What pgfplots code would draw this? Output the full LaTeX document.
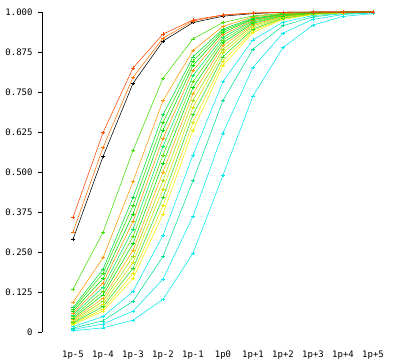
\documentclass[border=0pt]{standalone}
\usepackage{pgfplots}
\pgfplotsset{compat=1.18}
\usepackage{fontspec}
\setmonofont{DejaVu Sans Mono}
\definecolor{cR}{HTML}{FF4500}
\definecolor{cO1}{HTML}{FF7000}
\definecolor{cG1}{HTML}{40E000}
\definecolor{cO2}{HTML}{FF9900}
\definecolor{cC}{HTML}{00E8F0}
\definecolor{cT}{HTML}{00E090}
\begin{document}
\begin{tikzpicture}[x=1bp,y=1bp]
\useasboundingbox (0,0) rectangle (406,359);
\begin{axis}[
  at={(42bp,27bp)}, anchor=south west,
  scale only axis, width=361bp, height=320bp,
  xmin=-1.0333, xmax=11, ymin=0, ymax=1,
  clip=false,
  axis y line*=left, axis x line*=bottom,
  x axis line style={draw=none},
  y axis line style={black, line width=0.8pt},
  xtick={0,...,10},
  xticklabels={1p-5,1p-4,1p-3,1p-2,1p-1,1p0,1p+1,1p+2,1p+3,1p+4,1p+5},
  ytick={0,0.125,0.25,0.375,0.5,0.625,0.75,0.875,1},
  yticklabels={0,0.125,0.250,0.375,0.500,0.625,0.750,0.875,1.000},
  tick align=outside, major tick length=4bp,
  xtick style={draw=none},
  ytick style={black, line width=0.8pt},
  tick label style={font=\ttfamily\fontsize{9}{10}\selectfont},
  xticklabel style={yshift=-11bp},
  yticklabel style={xshift=-2bp},
  every axis plot/.append style={line width=0.55pt, mark=+, mark size=1.6bp, mark options={line width=0.55pt}},
]
% cyan group (right)
\addplot[cC] coordinates {(0,0.004)(1,0.013)(2,0.037)(3,0.102)(4,0.246)(5,0.490)(6,0.738)(7,0.889)(8,0.959)(9,0.986)(10,0.995)};
\addplot[cC] coordinates {(0,0.008)(1,0.025)(2,0.065)(3,0.165)(4,0.362)(5,0.622)(6,0.827)(7,0.934)(8,0.977)(9,0.992)(10,0.997)};
\addplot[cT] coordinates {(0,0.012)(1,0.035)(2,0.096)(3,0.236)(4,0.473)(5,0.724)(6,0.884)(7,0.957)(8,0.985)(9,0.995)(10,0.998)};
\addplot[cC] coordinates {(0,0.017)(1,0.048)(2,0.127)(3,0.302)(4,0.553)(5,0.783)(6,0.913)(7,0.968)(8,0.989)(9,0.996)(10,0.999)};
% main cluster
\addplot[color={rgb,255:red,240;green,240;blue,0}] coordinates {(0,0.023)(1,0.065)(2,0.167)(3,0.369)(4,0.631)(5,0.833)(6,0.936)(7,0.977)(8,0.992)(9,0.997)(10,0.999)};
\addplot[color={rgb,255:red,232;green,232;blue,0}] coordinates {(0,0.026)(1,0.071)(2,0.183)(3,0.395)(4,0.655)(5,0.847)(6,0.942)(7,0.979)(8,0.993)(9,0.998)(10,0.999)};
\addplot[color={rgb,255:red,32;green,224;blue,32}] coordinates {(0,0.029)(1,0.079)(2,0.199)(3,0.420)(4,0.679)(5,0.860)(6,0.947)(7,0.981)(8,0.994)(9,0.998)(10,0.999)};
\addplot[color={rgb,255:red,208;green,232;blue,0}] coordinates {(0,0.032)(1,0.087)(2,0.217)(3,0.447)(4,0.702)(5,0.873)(6,0.952)(7,0.983)(8,0.994)(9,0.998)(10,0.999)};
\addplot[color={rgb,255:red,160;green,224;blue,0}] coordinates {(0,0.035)(1,0.096)(2,0.236)(3,0.473)(4,0.724)(5,0.884)(6,0.957)(7,0.985)(8,0.995)(9,0.998)(10,0.999)};
\addplot[color={rgb,255:red,255;green,176;blue,0}] coordinates {(0,0.039)(1,0.105)(2,0.255)(3,0.500)(4,0.745)(5,0.895)(6,0.961)(7,0.986)(8,0.995)(9,0.998)(10,1.000)};
\addplot[color={rgb,255:red,0;green,224;blue,0}] coordinates {(0,0.043)(1,0.116)(2,0.276)(3,0.527)(4,0.764)(5,0.904)(6,0.965)(7,0.988)(8,0.996)(9,0.999)(10,1.000)};
\addplot[color={rgb,255:red,96;green,224;blue,0}] coordinates {(0,0.048)(1,0.127)(2,0.298)(3,0.553)(4,0.783)(5,0.913)(6,0.968)(7,0.989)(8,0.996)(9,0.999)(10,1.000)};
\addplot[color={rgb,255:red,0;green,240;blue,96}] coordinates {(0,0.053)(1,0.140)(2,0.321)(3,0.580)(4,0.801)(5,0.921)(6,0.972)(7,0.990)(8,0.997)(9,0.999)(10,1.000)};
\addplot[cO2] coordinates {(0,0.058)(1,0.153)(2,0.345)(3,0.605)(4,0.817)(5,0.929)(6,0.974)(7,0.991)(8,0.997)(9,0.999)(10,1.000)};
\addplot[color={rgb,255:red,0;green,224;blue,0}] coordinates {(0,0.065)(1,0.167)(2,0.369)(3,0.631)(4,0.833)(5,0.936)(6,0.977)(7,0.992)(8,0.997)(9,0.999)(10,1.000)};
\addplot[color={rgb,255:red,48;green,224;blue,0}] coordinates {(0,0.071)(1,0.183)(2,0.395)(3,0.655)(4,0.847)(5,0.942)(6,0.979)(7,0.993)(8,0.998)(9,0.999)(10,1.000)};
\addplot[color={rgb,255:red,0;green,224;blue,64}] coordinates {(0,0.076)(1,0.196)(2,0.420)(3,0.679)(4,0.860)(5,0.947)(6,0.981)(7,0.994)(8,0.998)(9,0.999)(10,1.000)};
% left curves
\addplot[cO2] coordinates {(0,0.093)(1,0.232)(2,0.470)(3,0.723)(4,0.880)(5,0.955)(6,0.985)(7,0.995)(8,0.998)(9,0.999)(10,1.000)};
\addplot[cG1] coordinates {(0,0.134)(1,0.311)(2,0.567)(3,0.793)(4,0.916)(5,0.967)(6,0.988)(7,0.996)(8,0.999)(9,1.000)(10,1.000)};
\addplot[black] coordinates {(0,0.290)(1,0.548)(2,0.777)(3,0.909)(4,0.967)(5,0.987)(6,0.995)(7,0.999)(8,1.000)(9,1.000)(10,1.000)};
\addplot[cO1] coordinates {(0,0.313)(1,0.576)(2,0.796)(3,0.918)(4,0.972)(5,0.990)(6,0.997)(7,0.999)(8,1.000)(9,1.000)(10,1.000)};
\addplot[cR] coordinates {(0,0.358)(1,0.623)(2,0.825)(3,0.931)(4,0.975)(5,0.991)(6,0.997)(7,0.999)(8,1.000)(9,1.000)(10,1.000)};
\end{axis}
\end{tikzpicture}
\end{document}
